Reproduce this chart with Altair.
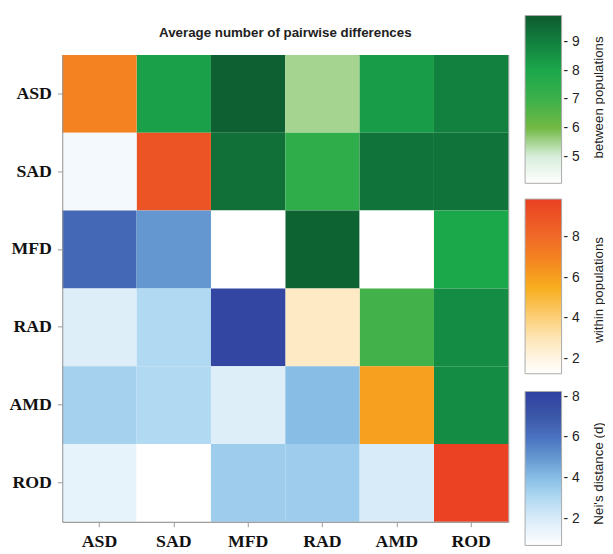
import altair as alt
import pandas as pd

pops = ["ASD", "SAD", "MFD", "RAD", "AMD", "ROD"]

# matrix rows (row population) -> values per column population
# upper triangle: between populations, diagonal: within populations,
# lower triangle: Nei's distance (d)
row_ASD = [7.0, 8.2, 9.8, 5.5, 8.3, 9.0]
row_SAD = [1.1, 9.0, 9.4, 7.4, 9.3, 9.3]
row_MFD = [6.4, 5.0, 1.27, 9.7, 4.07, 8.0]
row_RAD = [1.8, 3.0, 7.9, 2.7, 6.9, 8.7]
row_AMD = [3.3, 3.0, 1.8, 4.0, 6.0, 8.7]
row_ROD = [1.5, 0.7, 3.5, 3.5, 2.0, 9.8]
matrix = [row_ASD, row_SAD, row_MFD, row_RAD, row_AMD, row_ROD]

green_ticks = [5, 6, 7, 8, 9]
orange_ticks = [2, 4, 6, 8]
blue_ticks = [2, 4, 6, 8]

green_domain = [4.07, 5, 6, 7, 8, 9, 9.93]
green_range = ["#ffffff", "#d8eedb", "#72b944", "#3db04a", "#1ba84b", "#12803f", "#0d5a2f"]
orange_domain = [1.27, 2, 3, 4, 5.5, 7, 8, 9.9]
orange_range = ["#ffffff", "#fff5e2", "#fde6b8", "#fcd07a", "#f8ae1e", "#f48220", "#f06a28", "#ea4022"]
blue_domain = [0.7, 2, 3, 4, 5, 6, 7, 8.25]
blue_range = ["#ffffff", "#d8ebf8", "#b2d9f2", "#88bee6", "#6497d0", "#4a72c0", "#3c58a8", "#3040a0"]

records = []
for i, r in enumerate(pops):
    for j, c in enumerate(pops):
        kind = "between" if j > i else ("within" if j == i else "nei")
        records.append({"row": r, "col": c, "value": matrix[i][j], "kind": kind})
df = pd.DataFrame(records)

W, H = 452, 473
label_font = "Liberation Sans"
axis_font = "Liberation Serif"

x_enc = alt.X("col:N", sort=pops, title=None,
              scale=alt.Scale(paddingInner=0, paddingOuter=0),
              axis=alt.Axis(orient="bottom", labelFont=axis_font, labelFontWeight="bold",
                            labelFontSize=18, labelColor="#111", labelAngle=0,
                            tickColor="#999", tickSize=5, domainColor="#999",
                            labelPadding=6, grid=False))
y_enc = alt.Y("row:N", sort=pops, title=None,
              scale=alt.Scale(paddingInner=0, paddingOuter=0),
              axis=alt.Axis(orient="left", labelFont=axis_font, labelFontWeight="bold",
                            labelFontSize=18, labelColor="#111",
                            tickColor="#999", tickSize=5, domainColor="#999",
                            labelPadding=6, grid=False))


def legend(vals, x, y, length):
    return alt.Legend(orient="none", legendX=x, legendY=y, direction="vertical",
                      gradientLength=length, gradientThickness=37, title=None,
                      values=vals, labelExpr="'- ' + datum.label",
                      labelFont=label_font, labelFontSize=14, labelColor="#222",
                      gradientStrokeColor="#aaa", gradientStrokeWidth=1,
                      labelOffset=2)


base = alt.Chart(df)
between = base.transform_filter(alt.datum.kind == "between").mark_rect().encode(
    x=x_enc, y=y_enc,
    color=alt.Color("value:Q",
                    scale=alt.Scale(domain=green_domain, range=green_range, interpolate="rgb"),
                    legend=legend(green_ticks, 469, -40, 170)))
within = base.transform_filter(alt.datum.kind == "within").mark_rect().encode(
    x=x_enc, y=y_enc,
    color=alt.Color("value:Q",
                    scale=alt.Scale(domain=orange_domain, range=orange_range, interpolate="rgb"),
                    legend=legend(orange_ticks, 469, 146, 177)))
nei = base.transform_filter(alt.datum.kind == "nei").mark_rect().encode(
    x=x_enc, y=y_enc,
    color=alt.Color("value:Q",
                    scale=alt.Scale(domain=blue_domain, range=blue_range, interpolate="rgb"),
                    legend=legend(blue_ticks, 469, 341, 156)))

legend_titles = ["between populations", "within populations", "Nei's distance (d)"]
chart_title = "Average number of pairwise differences"


def vtitle(txt, ypos):
    return alt.Chart(pd.DataFrame({"t": [txt]})).mark_text(
        angle=270, fontSize=13.5, font=label_font, color="#222", align="center", baseline="middle"
    ).encode(x=alt.value(544), y=alt.value(ypos), text="t:N")


title_layer = alt.Chart(pd.DataFrame({"t": [chart_title]})).mark_text(
    fontSize=13.5, fontWeight="bold", font=label_font, color="#222",
    align="center", baseline="middle"
).encode(x=alt.value(W / 2), y=alt.value(-22), text="t:N")

chart = alt.layer(
    between, within, nei,
    vtitle(legend_titles[0], 43),
    vtitle(legend_titles[1], 238),
    vtitle(legend_titles[2], 424),
    title_layer,
).resolve_scale(color="independent").properties(
    width=W, height=H,
    autosize=alt.AutoSizeParams(type="none"),
    padding={"left": 55, "top": 44, "right": 98, "bottom": 29},
).configure_view(stroke="#999", strokeWidth=1)

chart.save("out.html", embed_options={"renderer": "svg", "actions": False})
